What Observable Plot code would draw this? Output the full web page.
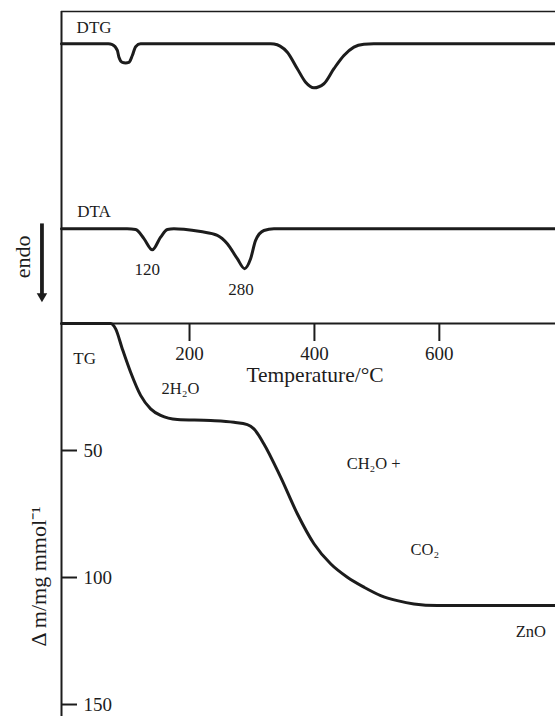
<!DOCTYPE html>
<html>
<head>
<meta charset="utf-8">
<script src="https://cdn.jsdelivr.net/npm/d3@7"></script>
<script src="https://cdn.jsdelivr.net/npm/@observablehq/plot@0.6"></script>
<style>
  html, body { margin: 0; padding: 0; background: #fff; }
  #chart svg { display: block; }
</style>
</head>
<body>
<div id="chart"></div>
<script>
// ---- data (temperature in °C) ----
// DTG signal: deflection below its baseline (arbitrary units)
const dtgTemp   = [-5, 70, 76.4, 84.4, 87, 92.4, 97.7, 102.9, 108.4, 113.7, 121.7, 330, 335.2, 345, 356.6, 372.6, 385.9, 399.2, 415.2, 431.2, 447.2, 463.2, 479.2, 495, 786];
const dtgSignal = [0, 0, 0.3, 2.6, 5.3, 7.3, 7.5, 7.3, 4.6, 1.1, 0, 0, 0.1, 0.9, 3.3, 9.8, 15.1, 17.3, 15.7, 9.8, 4.6, 1.3, 0.2, 0, 0];
// DTA signal: deflection below its baseline (endo down)
const dtaTemp   = [-5, 100, 113.7, 127, 140.4, 153.7, 164.5, 175, 191, 217.8, 244.5, 260.5, 276.5, 288.2, 297.8, 305.8, 319.1, 335.2, 786];
const dtaSignal = [0, 0, 0.3, 3.9, 8.3, 3.3, 0.3, 0, 0.2, 1.1, 2.6, 5.9, 11.8, 15.7, 11.8, 4.6, 0.7, 0, 0];
// TG: mass loss Δm / mg mmol⁻¹
const tgTemp = [-5, 73.7, 81.7, 92.4, 105.7, 121.7, 137.7, 153.7, 180.5, 233.8, 271.1, 292.6, 303.1, 319.1, 345.9, 372.6, 399.2, 425.9, 452.7, 479.3, 506, 532.7, 559.3, 596.8, 786];
const tgMass = [0, 0, 2.1, 10, 19.2, 28.3, 33.6, 36.2, 37.8, 38.2, 38.9, 39.8, 41.5, 47.4, 60.5, 74.9, 86.7, 94.6, 99.9, 103.8, 107.1, 109.1, 110.4, 111, 111];

const xTicks = [200, 400, 600];
const yTicks = [50, 100, 150];

// annotations (data coordinates)
const curveLabels = [
  {text: "DTG", x: 19.2, y: -116.7},
  {text: "DTA", x: 20.3, y: -44},
  {text: "TG",  x: 13.9, y: 13.9}
];
const peakLabels = [
  {text: "120", x: 132.4, y: -21.4},
  {text: "280", x: 282.6, y: -13.5}
];
const productLabels = [
  {text: "2H₂O",   x: 155.3, y: 25.7},
  {text: "CH₂O +", x: 451.6, y: 55.2},
  {text: "CO₂",    x: 554,   y: 88.9},
  {text: "ZnO",    x: 722.2, y: 121.5}
];

// ---- build ----
const DTG_BASE = -110.1, DTA_BASE = -37.3;
const Y_TOP = -122.83, Y_BOTTOM = 154.72;
const dtg = dtgTemp.map((t, i) => ({t, v: DTG_BASE + dtgSignal[i]}));
const dta = dtaTemp.map((t, i) => ({t, v: DTA_BASE + dtaSignal[i]}));
const tg  = tgTemp.map((t, i) => ({t, v: tgMass[i]}));
const ink = "#1c1c1c";

const chart = Plot.plot({
  width: 555,
  height: 716,
  marginLeft: 61, marginRight: 0, marginTop: 11, marginBottom: 0,
  x: {domain: [-5, 786], axis: null},
  y: {domain: [Y_TOP, Y_BOTTOM], range: [11, 716], axis: null},
  style: {fontFamily: "'Liberation Serif', 'Times New Roman', serif", color: ink, background: "#fff", overflow: "visible"},
  marks: [
    // frame lines
    Plot.ruleY([Y_TOP], {stroke: ink, strokeWidth: 1.4}),
    Plot.ruleY([0], {stroke: ink, strokeWidth: 2}),
    Plot.ruleX([-5], {stroke: ink, strokeWidth: 2}),
    // temperature axis on the y = 0 line
    Plot.axisX(xTicks, {anchor: "top", dy: 312, tickSize: -17, tickPadding: -13, lineAnchor: "middle",
      fontSize: 19, strokeWidth: 2, stroke: ink, fill: ink, label: null}),
    // TG axis
    Plot.axisY(yTicks, {anchor: "left", tickSize: -16, tickPadding: -6, textAnchor: "start",
      fontSize: 19, strokeWidth: 2, stroke: ink, fill: ink, label: null}),
    // curves
    Plot.line(dtg, {x: "t", y: "v", curve: "monotone-x", stroke: ink, strokeWidth: 3}),
    Plot.line(dta, {x: "t", y: "v", curve: "monotone-x", stroke: ink, strokeWidth: 3}),
    Plot.line(tg,  {x: "t", y: "v", curve: "monotone-x", stroke: ink, strokeWidth: 3}),
    // labels
    Plot.text(curveLabels, {x: "x", y: "y", text: "text", textAnchor: "start", fontSize: 17, fill: ink}),
    Plot.text(peakLabels, {x: "x", y: "y", text: "text", fontSize: 17, fill: ink}),
    Plot.text(productLabels, {x: "x", y: "y", text: "text", textAnchor: "start", fontSize: 16.5, fill: ink}),
    Plot.text(["Temperature/°C"], {x: 401, y: 20.4, fontSize: 21.5, fill: ink}),
    Plot.text(["endo"], {frameAnchor: "left", dx: -39, y: -26.2, rotate: -90, textAnchor: "middle", fontSize: 22, fill: ink}),
    Plot.text(["Δ m/mg mmol⁻¹"], {frameAnchor: "left", dx: -23, y: 99.6, rotate: -90, textAnchor: "middle", fontSize: 22, fill: ink}),
    // endo arrow
    Plot.link([0], {x1: -36.3, x2: -36.3, y1: -39.4, y2: -11.2, stroke: ink, strokeWidth: 3.8}),
    Plot.dot([0], {x: -36.3, y: -10.75, symbol: "triangle", r: 3.9, rotate: 180, fill: ink, stroke: null})
  ]
});
document.getElementById("chart").appendChild(chart);
</script>
</body>
</html>
